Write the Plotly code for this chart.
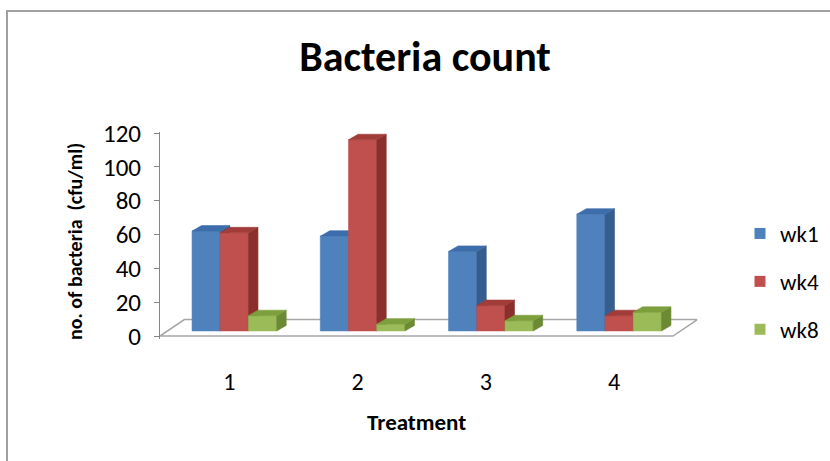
import plotly.graph_objects as go

# Bacteria counts per treatment (cfu/ml) at weeks 1, 4 and 8
categories = ["1", "2", "3", "4"]
series_names = ["wk1", "wk4", "wk8"]
wk1 = [59, 56, 47, 69]
wk4 = [58, 113, 15, 9]
wk8 = [9, 4, 6, 11]
y_ticks = [0, 20, 40, 60, 80, 100, 120]

series_values = [wk1, wk4, wk8]
front_colors = ["#4F81BD", "#C0504D", "#9BBB59"]
top_colors = ["#3D6DAA", "#A23C39", "#7E9F3D"]
side_colors = ["#365D8E", "#8A2F2C", "#6C8A33"]

FONT = "Carlito, Lato, 'Open Sans', sans-serif"

# Oblique projection of the 3-D columns, expressed in axis units
BAR_W = 0.22                    # width of one column
GROUP_LEFT = -0.32              # left edge of a group relative to the category
LIFT_X, LIFT_Y = 0.07, 3.0      # front plane of the columns behind the floor edge
DEPTH_X, DEPTH_Y = 0.074, 3.25  # column depth
FLOOR_X, FLOOR_Y = 0.19, 9.7    # floor depth

W, H = 830, 461
fig = go.Figure()


def face(xs, ys, color, line_color=None, width=0.6):
    fig.add_trace(go.Scatter(
        x=xs + [xs[0]], y=ys + [ys[0]], mode="lines", fill="toself",
        fillcolor=color, line=dict(color=line_color or color, width=width),
        hoverinfo="skip", showlegend=False))


# floor of the 3-D plot area
n = len(categories)
face([-0.5, n - 0.5, n - 0.5 + FLOOR_X, -0.5 + FLOOR_X],
     [0, 0, FLOOR_Y, FLOOR_Y], "white", "#A6A6A6", 1.5)

# columns painted left to right so each one hides its neighbour's side
for i in range(n):
    for s, vals in enumerate(series_values):
        v = vals[i]
        x0 = i + GROUP_LEFT + s * BAR_W + LIFT_X
        x1 = x0 + BAR_W
        y0, y1 = LIFT_Y, LIFT_Y + v
        face([x0, x1, x1, x0], [y0, y0, y1, y1], front_colors[s])
        face([x1, x1 + DEPTH_X, x1 + DEPTH_X, x1],
             [y0, y0 + DEPTH_Y, y1 + DEPTH_Y, y1], side_colors[s])
        face([x0, x1, x1 + DEPTH_X, x0 + DEPTH_X],
             [y1, y1, y1 + DEPTH_Y, y1 + DEPTH_Y], top_colors[s])

# legend entries
for s, name in enumerate(series_names):
    fig.add_trace(go.Scatter(
        x=[None], y=[None], mode="markers", name=name, legendgroup=name,
        marker=dict(symbol="square", size=11, color=front_colors[s])))

x_left_px, x_right_px = 160, 160 + (n + FLOOR_X) * 128.25
y_lo, y_hi = -1.5, 120.5
px_per_unit = (336 - 133) / 120
y_bottom_px = 336 - y_lo * px_per_unit
y_top_px = 133 - (y_hi - 120) * px_per_unit

fig.update_layout(
    width=W, height=H, autosize=False,
    margin=dict(l=0, r=0, t=0, b=0, pad=0, autoexpand=False),
    paper_bgcolor="white", plot_bgcolor="white",
    font=dict(family=FONT, color="black"),
    title=dict(text="Bacteria count", x=425 / W, y=1 - 56 / H,
               xanchor="center", yanchor="middle", automargin=False,
               font=dict(family=FONT, size=42, weight="bold", color="black")),
    xaxis=dict(domain=[x_left_px / W, x_right_px / W],
               range=[-0.5, n - 0.5 + FLOOR_X], automargin=False,
               tickvals=[i + 0.04 for i in range(n)], ticktext=categories,
               showline=False, showgrid=False, zeroline=False, ticks="",
               ticklabelstandoff=26, tickfont=dict(size=24)),
    yaxis=dict(domain=[1 - y_bottom_px / H, 1 - y_top_px / H],
               range=[y_lo, y_hi], tickvals=y_ticks, automargin=False,
               showline=True, linecolor="#868686", linewidth=1,
               ticks="outside", ticklen=5, tickcolor="#868686",
               showgrid=False, zeroline=False,
               ticklabelstandoff=8, tickfont=dict(size=25)),
    legend=dict(x=740 / W, y=1 - 212 / H, xanchor="left", yanchor="top",
                font=dict(size=23), tracegroupgap=15,
                bgcolor="rgba(0,0,0,0)"),
    showlegend=True,
    annotations=[
        dict(text="no. of bacteria  (cfu/ml)", x=75 / W, y=1 - 242 / H,
             xref="paper", yref="paper", xanchor="center", yanchor="middle",
             showarrow=False, textangle=-90,
             font=dict(size=20, weight="bold")),
        dict(text="Treatment", x=417 / W, y=1 - 422 / H,
             xref="paper", yref="paper", xanchor="center", yanchor="middle",
             showarrow=False, font=dict(size=23, weight="bold")),
    ],
    shapes=[dict(type="rect", xref="paper", yref="paper",
                 x0=7 / W, x1=1.02, y0=-0.02, y1=1 - 11 / H,
                 line=dict(color="#A0A0A0", width=2))],
)

fig.write_html("out.html")
